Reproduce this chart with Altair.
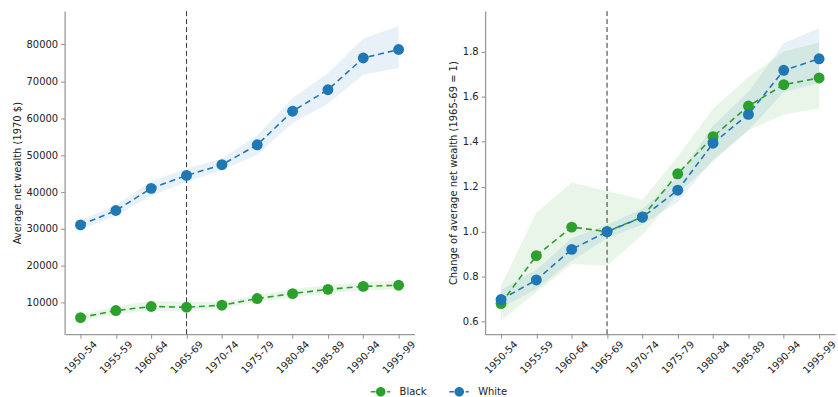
import altair as alt
import pandas as pd

periods = ["1950-54", "1955-59", "1960-64", "1965-69", "1970-74",
           "1975-79", "1980-84", "1985-89", "1990-94", "1995-99"]
groups = ["Black", "White"]
group_colors = ["#2ca02c", "#1f77b4"]
base_period = "1965-69"

# Average net wealth in 1970 dollars, with confidence bands
black_wealth = [6000, 7900, 9000, 8800, 9350, 11150, 12500, 13650, 14450, 14750]
black_wealth_lo = [5400, 6900, 7900, 7600, 8500, 10300, 11500, 12600, 13400, 13600]
black_wealth_hi = [6700, 9100, 10500, 10200, 10300, 12100, 13700, 14800, 15600, 16000]
white_wealth = [31100, 35000, 41000, 44500, 47400, 52800, 61900, 67700, 76300, 78600]
white_wealth_lo = [29800, 33600, 39000, 42700, 46000, 50100, 58700, 63900, 71800, 73600]
white_wealth_hi = [32400, 36400, 43000, 46400, 49000, 55300, 65500, 72200, 81600, 85000]

# Average net wealth relative to the 1965-69 level
black_ratio = [0.680, 0.893, 1.020, 1.000, 1.065, 1.257, 1.422, 1.558, 1.653, 1.683]
black_ratio_lo = [0.605, 0.730, 0.856, 0.848, 0.985, 1.170, 1.310, 1.450, 1.521, 1.548]
black_ratio_hi = [0.760, 1.084, 1.218, 1.180, 1.142, 1.334, 1.547, 1.687, 1.800, 1.840]
white_ratio = [0.698, 0.785, 0.921, 1.000, 1.064, 1.184, 1.393, 1.521, 1.717, 1.768]
white_ratio_lo = [0.660, 0.745, 0.870, 0.970, 1.030, 1.130, 1.320, 1.450, 1.620, 1.660]
white_ratio_hi = [0.740, 0.830, 0.970, 1.030, 1.100, 1.240, 1.470, 1.620, 1.837, 1.905]

wealth_ticks = [10000, 20000, 30000, 40000, 50000, 60000, 70000, 80000]
ratio_ticks = [0.6, 0.8, 1.0, 1.2, 1.4, 1.6, 1.8]


def long_table(black, black_lo, black_hi, white, white_lo, white_hi):
    rows = []
    for grp, vals, los, his in (("Black", black, black_lo, black_hi),
                                ("White", white, white_lo, white_hi)):
        hue = group_colors[groups.index(grp)]
        for p, v, lo, hi in zip(periods, vals, los, his):
            rows.append({"period": p, "group": grp, "hue": hue,
                         "value": v, "lo": lo, "hi": hi})
    return pd.DataFrame(rows)


wealth_df = long_table(black_wealth, black_wealth_lo, black_wealth_hi,
                       white_wealth, white_wealth_lo, white_wealth_hi)
ratio_df = long_table(black_ratio, black_ratio_lo, black_ratio_hi,
                      white_ratio, white_ratio_lo, white_ratio_hi)

color_scale = alt.Scale(domain=groups, range=group_colors)

# legend handle: solid stub, marker, short dash (all drawn as filled shapes)
handle_path = ("M-2,-0.15L-1.05,-0.15L-1.05,0.15L-2,0.15Z "
               "M-0.96,0A0.96,0.96 0 1,0 0.96,0A0.96,0.96 0 1,0 -0.96,0Z "
               "M1.3,-0.15L1.9,-0.15L1.9,0.15L1.3,0.15Z")

group_legend = alt.Legend(
    title=None, orient="none", direction="horizontal", columns=2,
    legendX=313, legendY=378, padding=0,
    symbolType=handle_path, symbolSize=100, symbolStrokeWidth=0,
    labelOffset=14, columnPadding=22,
    labelFontSize=10, labelColor="#222222", labelFont="DejaVu Sans",
)


def panel(df, title, domain, ticks, fmt, with_legend):
    x = alt.X("period:N", sort=periods,
              scale=alt.Scale(type="point", padding=0.45),
              axis=alt.Axis(title=None, labelAngle=-45, labelAlign="center",
                            labelBaseline="middle", labelPadding=19))
    y_axis = alt.Axis(title=title, values=ticks, format=fmt, grid=False)
    y_scale = alt.Scale(domain=domain, nice=False, zero=False)

    bands = alt.Chart(df).mark_area(opacity=0.1).encode(
        x=x,
        y=alt.Y("lo:Q", scale=y_scale, axis=y_axis),
        y2="hi:Q",
        fill=alt.Fill("hue:N", scale=None),
        detail="group:N",
    )
    ref = alt.Chart(pd.DataFrame({"period": [base_period]})).mark_rule(
        color="#333333", strokeDash=[5, 3], strokeWidth=1
    ).encode(x=alt.X("period:N", sort=periods))
    lines = alt.Chart(df).mark_line(strokeDash=[6, 4], strokeWidth=1.6).encode(
        x=x,
        y=alt.Y("value:Q", scale=y_scale, axis=y_axis),
        stroke=alt.Stroke("hue:N", scale=None),
        detail="group:N",
    )
    if with_legend:
        marker = {"color": alt.Color("group:N", scale=color_scale, legend=group_legend)}
    else:
        marker = {"fill": alt.Fill("hue:N", scale=None)}
    points = alt.Chart(df).mark_point(filled=True, size=120, opacity=1).encode(
        x=x,
        y=alt.Y("value:Q", scale=y_scale, axis=y_axis),
        **marker,
    )
    return alt.layer(bands, ref, lines, points).properties(width=352, height=325)


left = panel(wealth_df, "Average net wealth (1970 $)", [1500, 89000],
             wealth_ticks, "d", True)
right = panel(ratio_df, "Change of average net wealth (1965-69 = 1)",
              [0.544, 1.98], ratio_ticks, ".1f", False)

chart = alt.hconcat(left, right, spacing=31).resolve_scale(
    color="shared"
).properties(
    padding={"left": 12, "top": 9, "right": 0, "bottom": 0}
).configure_view(
    stroke=None
).configure_axis(
    labelFont="DejaVu Sans", titleFont="DejaVu Sans",
    labelFontSize=10, titleFontSize=10, titleFontWeight="normal",
    labelColor="#222222", titleColor="#222222",
    domainColor="#999999", domainWidth=1.3,
    tickColor="#999999", tickSize=4, tickWidth=1.1,
    labelPadding=3, titlePadding=4,
)

chart.save("out.html", embed_options={"renderer": "svg", "actions": False})
